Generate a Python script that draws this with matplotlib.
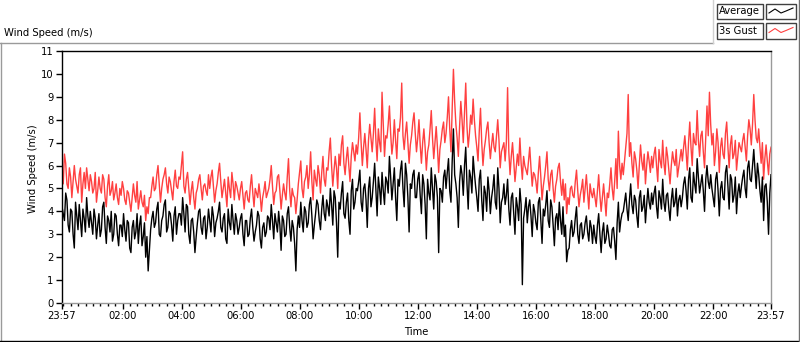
import numpy as np
import matplotlib
matplotlib.use('Agg')
import matplotlib.pyplot as plt
from matplotlib.lines import Line2D
from matplotlib.patches import Rectangle

# values, one row per hour (23:57 -> 23:57)
# *_a: samples on the 5-minute marks, *_b: samples halfway between them
avg_a = [
    4.2, 3.6, 4.5, 3.1, 4.0, 2.4, 3.8, 4.3, 2.9, 3.7, 4.6, 3.3,
    3.5, 4.1, 2.8, 3.9, 3.2, 4.4, 2.6, 3.6, 4.0, 3.0, 3.8, 2.5,
    3.4, 3.9, 2.7, 3.5, 2.2, 3.6, 3.1, 2.6, 3.8, 2.9, 2.0, 1.4,
    3.2, 4.0, 3.5, 4.4, 2.9, 3.8, 4.5, 3.3, 3.9, 2.7, 4.2, 3.6,
    3.9, 4.6, 3.1, 4.2, 2.6, 3.7, 2.2, 3.5, 4.1, 3.0, 3.8, 3.3,
    3.6, 4.2, 2.9, 3.7, 4.4, 3.1, 3.9, 2.6, 3.5, 4.3, 3.0, 3.6,
    3.3, 3.9, 2.5, 3.6, 3.0, 4.1, 2.7, 3.4, 3.8, 2.4, 3.5, 3.1,
    3.7, 4.3, 2.8, 3.5, 4.0, 2.3, 3.6, 3.0, 4.2, 2.7, 3.3, 1.4,
    3.8, 4.4, 3.1, 4.0, 3.5, 4.6, 2.8, 3.9, 4.3, 3.2, 4.7, 3.6,
    4.2, 5.0, 3.4, 4.6, 2.0, 4.1, 5.3, 3.7, 4.8, 3.0, 5.4, 4.4,
    4.9, 5.8, 4.0, 5.2, 3.3, 5.5, 4.6, 6.1, 3.8, 5.0, 5.7, 4.3,
    5.3, 6.4, 4.5, 5.9, 3.6, 5.1, 6.2, 4.2, 5.6, 3.1, 5.0, 5.8,
    4.6, 5.7, 3.9, 5.2, 2.8, 4.8, 5.9, 4.1, 5.3, 2.2, 4.9, 5.5,
    5.0, 6.3, 4.4, 7.6, 5.2, 3.3, 6.0, 4.7, 6.8, 4.1, 5.5, 6.4,
    5.1, 4.0, 5.8, 3.6, 4.8, 5.5, 3.9, 5.0, 4.4, 5.9, 3.5, 4.6,
    4.3, 5.4, 3.4, 4.8, 3.0, 4.2, 5.0, 0.8, 4.1, 3.5, 4.5, 2.9,
    4.0, 3.2, 4.6, 2.6, 3.8, 4.9, 3.3, 4.2, 2.5, 3.9, 4.4, 3.0,
    2.9, 1.8, 2.4, 3.6, 3.1, 4.2, 2.6, 3.5, 3.0, 3.8, 2.7, 3.3,
    3.4, 2.6, 3.9, 2.2, 3.5, 2.8, 3.0, 2.4, 3.3, 1.9, 4.4, 3.6,
    4.0, 4.8, 3.6, 5.2, 3.9, 4.5, 3.3, 4.9, 4.2, 3.5, 5.0, 4.1,
    4.3, 5.1, 3.7, 4.6, 5.4, 4.0, 4.8, 3.6, 5.0, 4.4, 3.8, 4.7,
    4.6, 5.5, 4.1, 5.9, 4.4, 5.2, 6.3, 4.8, 5.6, 4.0, 6.0, 5.0,
    5.0, 4.2, 5.7, 3.8, 5.3, 4.5, 6.0, 4.1, 5.4, 4.7, 3.9, 5.2,
    5.1, 5.8, 4.6, 6.2, 5.3, 6.7, 5.0, 5.6, 4.4, 3.6, 5.2, 3.0,
    5.6,
]
avg_b = [
    3.9, 4.8, 3.4, 4.1, 3.0, 4.4, 3.2, 3.6, 4.1, 3.1, 3.8, 4.0,
    3.0, 3.7, 3.4, 2.9, 4.2, 3.3, 3.8, 3.1, 2.7, 3.9, 3.0, 3.4,
    2.9, 3.2, 3.6, 2.4, 3.3, 2.8, 3.9, 3.4, 2.5, 3.5, 2.9, 2.3,
    3.7, 3.3, 4.1, 3.0, 3.6, 4.3, 3.1, 4.0, 3.4, 3.8, 3.0, 3.9,
    3.4, 3.9, 4.3, 3.0, 3.6, 3.1, 2.9, 4.0, 3.3, 3.7, 2.8, 4.1,
    3.1, 3.8, 3.5, 4.0, 3.3, 3.7, 2.8, 4.1, 3.2, 3.6, 3.9, 3.0,
    3.7, 3.0, 3.6, 2.9, 3.7, 3.3, 3.1, 4.0, 2.8, 3.3, 2.9, 3.8,
    3.2, 3.6, 3.9, 3.1, 3.4, 3.8, 2.9, 3.9, 3.3, 3.6, 2.6, 3.2,
    3.3, 3.6, 4.2, 3.3, 4.3, 3.8, 3.4, 4.5, 3.6, 4.1, 3.9, 4.5,
    3.8, 4.3, 4.9, 3.5, 4.4, 4.8, 3.9, 4.4, 3.6, 4.9, 4.1, 5.0,
    5.3, 4.4, 5.0, 4.5, 5.0, 4.2, 5.3, 4.9, 5.5, 4.3, 4.9, 5.5,
    4.8, 5.5, 5.2, 4.6, 5.4, 5.8, 5.0, 6.1, 4.6, 5.2, 5.6, 4.6,
    5.4, 4.7, 5.6, 4.3, 5.4, 4.5, 5.0, 5.6, 4.6, 5.0, 4.4, 5.8,
    5.7, 4.9, 6.2, 5.6, 4.6, 5.3, 5.6, 6.0, 5.2, 5.8, 4.8, 5.7,
    4.6, 5.4, 4.5, 5.1, 4.0, 4.9, 4.6, 5.6, 4.1, 5.0, 4.4, 5.2,
    4.7, 4.1, 4.6, 3.9, 4.6, 3.6, 4.3, 3.7, 4.6, 4.2, 3.8, 4.3,
    3.5, 4.4, 3.6, 4.1, 4.3, 3.6, 4.5, 3.4, 3.7, 3.2, 3.6, 4.2,
    3.4, 2.3, 3.2, 2.9, 3.7, 3.0, 3.4, 2.8, 3.5, 3.1, 3.6, 2.6,
    2.9, 3.4, 3.0, 3.1, 2.6, 3.4, 2.5, 3.2, 2.7, 3.5, 3.1, 3.9,
    4.4, 4.1, 4.5, 4.3, 4.7, 3.8, 4.6, 4.0, 4.7, 4.3, 4.4, 4.8,
    4.8, 4.2, 4.9, 4.1, 4.4, 4.7, 4.1, 4.5, 4.2, 5.0, 4.5, 4.2,
    5.2, 4.9, 5.4, 4.6, 5.7, 4.8, 5.5, 5.2, 4.9, 5.4, 5.3, 5.6,
    4.6, 5.4, 4.9, 5.0, 4.6, 5.7, 5.1, 5.6, 4.4, 5.5, 4.8, 4.6,
    5.5, 5.0, 5.9, 5.4, 6.0, 5.8, 6.1, 4.9, 5.5, 5.1, 4.4, 4.8,
]
gust_a = [
    5.8, 6.5, 5.2, 5.9, 4.6, 6.0, 5.1, 5.6, 4.4, 5.7, 5.9, 4.9,
    5.3, 5.0, 4.4, 5.5, 4.8, 5.4, 4.2, 5.6, 4.9, 4.5, 5.2, 4.3,
    4.7, 5.0, 4.3, 4.8, 4.0, 5.2, 4.4, 4.1, 4.9, 4.2, 3.6, 3.9,
    4.6, 5.5, 5.0, 6.0, 4.4, 5.4, 5.9, 4.8, 5.3, 4.5, 5.8, 5.0,
    5.4, 6.6, 4.8, 5.7, 4.3, 5.3, 4.1, 5.0, 5.6, 4.5, 5.2, 4.7,
    5.0, 5.8, 4.4, 5.2, 6.1, 4.6, 5.4, 4.2, 5.0, 5.7, 4.5, 5.1,
    4.5, 5.3, 4.1, 4.9, 4.4, 5.6, 4.2, 4.8, 5.2, 4.0, 4.9, 4.6,
    5.0, 6.0, 4.3, 4.9, 5.6, 4.1, 5.2, 4.5, 6.3, 4.2, 4.7, 3.9,
    5.2, 6.2, 4.6, 5.5, 5.0, 6.6, 4.5, 5.4, 6.0, 4.8, 6.4, 5.1,
    5.8, 7.2, 5.1, 6.4, 5.0, 6.0, 7.3, 5.6, 6.8, 5.3, 7.0, 6.2,
    6.5, 8.3, 6.0, 7.4, 5.9, 7.8, 6.6, 8.5, 6.2, 7.0, 9.2, 6.4,
    7.2, 8.6, 6.5, 8.0, 6.3, 7.5, 9.6, 6.7, 7.9, 6.1, 7.3, 8.3,
    6.6, 8.0, 6.1, 7.6, 5.8, 6.9, 8.4, 6.3, 7.7, 5.7, 7.1, 7.9,
    7.4, 9.0, 6.6, 10.2, 7.8, 6.4, 8.8, 7.0, 9.6, 6.8, 8.2, 8.9,
    7.3, 6.2, 8.5, 6.0, 7.1, 7.9, 6.3, 7.4, 6.6, 8.0, 5.9, 6.8,
    6.2, 9.4, 5.6, 7.0, 5.3, 6.5, 7.2, 5.4, 6.0, 5.6, 6.8, 5.1,
    5.6, 4.8, 6.4, 4.5, 5.5, 6.6, 4.9, 5.8, 4.4, 5.4, 6.1, 4.7,
    4.5, 3.9, 4.3, 5.1, 4.6, 5.8, 4.2, 5.0, 4.4, 5.6, 4.1, 4.8,
    5.0, 4.2, 5.6, 4.0, 5.2, 3.8, 4.6, 5.9, 4.5, 6.3, 7.5, 5.4,
    5.6, 6.8, 9.1, 7.0, 5.5, 6.3, 5.0, 6.9, 5.8, 5.2, 6.6, 5.7,
    5.9, 6.8, 5.3, 6.2, 7.1, 5.6, 6.4, 5.2, 6.6, 6.0, 5.5, 6.3,
    6.2, 7.3, 5.8, 7.9, 6.0, 7.0, 8.4, 6.4, 7.5, 5.9, 8.6, 9.2,
    6.9, 6.0, 7.6, 5.7, 7.2, 6.3, 7.9, 5.9, 7.3, 6.5, 5.8, 7.0,
    6.6, 7.4, 6.2, 8.0, 6.9, 9.1, 7.2, 7.6, 6.1, 5.4, 6.9, 5.6,
    6.8,
]
gust_b = [
    5.2, 6.1, 5.0, 5.5, 5.3, 5.4, 4.8, 5.9, 5.2, 5.0, 5.4, 5.6,
    4.8, 5.7, 4.9, 5.0, 5.6, 4.6, 5.1, 4.7, 5.3, 4.8, 4.6, 5.0,
    5.3, 4.5, 4.9, 4.4, 4.6, 4.7, 5.3, 4.5, 4.4, 4.7, 4.2, 4.6,
    5.1, 4.9, 5.6, 5.2, 5.0, 5.6, 5.2, 5.5, 4.9, 5.3, 5.1, 5.5,
    6.0, 5.1, 5.4, 5.0, 4.9, 4.6, 4.8, 5.4, 5.0, 5.1, 4.9, 5.6,
    5.5, 5.1, 4.9, 5.7, 5.3, 5.0, 4.8, 5.5, 4.6, 5.2, 5.3, 4.8,
    5.0, 4.7, 4.8, 4.5, 5.1, 4.8, 5.0, 4.6, 4.7, 4.6, 5.3, 4.8,
    5.4, 5.1, 4.8, 5.5, 4.9, 4.7, 4.8, 5.5, 4.9, 5.0, 4.6, 4.5,
    5.7, 5.0, 5.3, 6.0, 5.6, 5.3, 5.8, 5.1, 5.6, 5.7, 5.4, 5.9,
    6.6, 6.0, 5.8, 5.9, 6.5, 6.9, 6.1, 6.3, 6.0, 6.4, 6.6, 6.9,
    7.2, 7.0, 6.8, 6.7, 7.1, 7.2, 7.4, 7.1, 7.6, 6.6, 7.8, 7.3,
    7.8, 7.4, 7.0, 7.1, 7.6, 8.1, 7.3, 7.4, 7.0, 6.9, 7.9, 7.4,
    7.2, 6.9, 7.0, 6.8, 6.6, 7.6, 7.2, 7.0, 6.8, 6.7, 7.6, 7.0,
    8.1, 7.6, 8.5, 8.8, 7.2, 7.7, 8.0, 8.3, 7.7, 7.4, 7.8, 8.0,
    6.8, 7.5, 7.0, 6.7, 7.6, 7.0, 6.9, 6.8, 7.3, 7.1, 6.6, 7.0,
    7.0, 6.6, 6.4, 6.2, 5.9, 6.0, 6.1, 6.4, 5.8, 6.2, 5.9, 5.7,
    5.3, 5.7, 5.5, 5.1, 6.0, 5.4, 5.6, 5.0, 5.1, 5.9, 5.3, 5.4,
    5.2, 4.6, 5.0, 4.7, 5.3, 4.9, 4.7, 5.4, 5.0, 4.8, 5.2, 4.6,
    4.6, 4.9, 4.7, 4.6, 4.5, 4.8, 5.2, 5.0, 5.3, 5.0, 6.0, 6.1,
    6.2, 7.4, 6.4, 6.1, 6.6, 5.8, 6.0, 6.2, 6.5, 6.0, 6.2, 6.4,
    6.5, 6.0, 6.7, 5.9, 6.1, 6.8, 5.8, 6.0, 6.2, 6.7, 5.9, 6.7,
    6.8, 6.6, 7.0, 6.8, 7.4, 6.9, 7.1, 7.3, 6.6, 7.2, 7.3, 7.8,
    7.4, 6.6, 7.0, 6.8, 6.5, 7.4, 6.8, 6.9, 6.3, 7.1, 6.4, 6.8,
    7.1, 6.8, 7.3, 7.6, 7.8, 8.0, 7.0, 6.8, 7.0, 6.3, 6.2, 6.5,
]
start_hour = -0.05      # 23:57 of the previous day
step_hours = 5 / 60.0
tick_hours = [-0.05, 2, 4, 6, 8, 10, 12, 14, 16, 18, 20, 22, 23.95]
tick_labels = ['23:57', '02:00', '04:00', '06:00', '08:00', '10:00', '12:00',
               '14:00', '16:00', '18:00', '20:00', '22:00', '23:57']

# merge the on-mark and half-step samples into one time-ordered series
t_a = start_hour + np.arange(len(avg_a)) * step_hours
t_b = start_hour + step_hours / 2 + np.arange(len(avg_b)) * step_hours
t = np.concatenate([t_a, t_b])
order = np.argsort(t)
t = t[order]
avg = np.concatenate([avg_a, avg_b])[order]
gust = np.concatenate([gust_a, gust_b])[order]

W, H = 800, 342
fig = plt.figure(figsize=(W / 100, H / 100), dpi=100)
fig.patch.set_facecolor('white')


def fx(x):
    return x / W


def fy(y):
    return 1 - y / H


ax = fig.add_axes([fx(62), fy(303), fx(771) - fx(62), fy(51) - fy(303)])
ax.plot(t, gust, color='#ff4040', lw=1.0, zorder=2)
ax.plot(t, avg, color='black', lw=1.0, zorder=3)

ax.set_xlim(start_hour, 23.95)
ax.set_ylim(0, 11)
ax.set_yticks(range(0, 12))
ax.set_xticks(tick_hours)
ax.set_xticklabels(tick_labels)
ax.set_xticks(np.arange(0, 24, 0.25), minor=True)
ax.tick_params(axis='both', which='major', labelsize=7.2, length=4, width=1,
               pad=2, direction='out')
ax.tick_params(axis='x', which='minor', length=2.5, width=1, direction='out')
ax.tick_params(axis='y', which='minor', left=False)
for s in ['left', 'top']:
    ax.spines[s].set_color('black')
for s in ['right', 'bottom']:
    ax.spines[s].set_color('#9a9a9a')
for sp in ax.spines.values():
    sp.set_linewidth(1.0)

ax.set_xlabel('Time', fontsize=7.2, labelpad=3)
ax.xaxis.set_label_coords(0.5, -0.095)
fig.text(fx(33), fy(169), 'Wind Speed (m/s)', rotation=90, fontsize=7.2,
         ha='center', va='center')

# top-left caption
fig.text(fx(4), fy(33), 'Wind Speed (m/s)', fontsize=7.2, ha='left', va='center')

# outer panel frame
frame = [((0, 42.5), (713, 42.5), '#9a9a9a'),
         ((1, 42.5), (1, 341), '#9a9a9a'),
         ((0, 341), (799, 341), 'black'),
         ((799, 0), (799, 341), '#707070'),
         ((713, 0), (713, 42.5), '#d0d0d0')]
for (x0, y0), (x1, y1), c in frame:
    fig.add_artist(Line2D([fx(x0), fx(x1)], [fy(y0), fy(y1)], color=c, lw=1.0,
                          transform=fig.transFigure))

# legend boxes
legend_names = ['Average', '3s Gust']
legend_colors = ['black', '#ff4040']
for i, (name, col) in enumerate(zip(legend_names, legend_colors)):
    top = 4 + i * 19.5
    fig.add_artist(Rectangle((fx(717), fy(top + 15)), fx(46), 15 / H,
                             fill=False, ec='#404040', lw=1.0,
                             transform=fig.transFigure))
    fig.text(fx(719), fy(top + 7.5), name, fontsize=7.2, ha='left', va='center')
    fig.add_artist(Rectangle((fx(766), fy(top + 15)), fx(30), 15 / H,
                             fill=False, ec='#404040', lw=1.0,
                             transform=fig.transFigure))
    zx = [769, 775, 781, 786, 793]
    zy = [top + 9, top + 5, top + 9, top + 7, top + 4]
    fig.add_artist(Line2D([fx(v) for v in zx], [fy(v) for v in zy], color=col,
                          lw=0.8, transform=fig.transFigure))

fig.savefig('out.png', dpi=100, facecolor='white')
